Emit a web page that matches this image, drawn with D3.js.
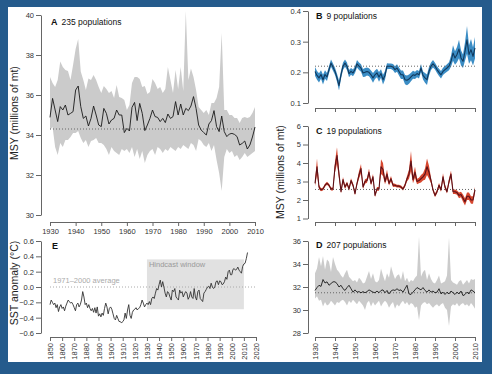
<!DOCTYPE html>
<html>
<head>
<meta charset="utf-8">
<script src="https://cdn.jsdelivr.net/npm/d3@7"></script>
<style>
  html, body { margin: 0; padding: 0; background: #255b8c; }
  svg { display: block; font-family: "Liberation Sans", Arial, sans-serif; }
</style>
</head>
<body>
<svg id="chart" width="492" height="374"></svg>
<script>
// ---- data ----
const msyYears = d3.range(1930, 2011);
const sstYears = d3.range(1850, 2014);
const msyTicks = d3.range(1930, 2011, 10);
const sstTicks = d3.range(1850, 2021, 10);

// A: all 235 populations
const aMean = [34.88,35.83,35.25,34.67,35.42,35.25,35.5,35.0,35.08,35.17,
  36.25,36.45,35.42,34.83,34.95,34.45,34.83,35.45,35.0,34.5,
  34.42,35.33,35.08,34.55,34.75,34.83,35.25,35.0,35.0,34.12,
  34.33,34.2,35.38,35.63,34.72,35.58,35.08,34.22,34.5,34.83,
  35.25,34.92,34.88,34.67,34.83,34.62,35.05,34.83,34.92,35.67,
  35.0,35.55,35.0,35.33,35.22,35.45,35.92,35.33,34.5,34.25,
  34.12,34.0,34.55,34.72,35.22,34.42,34.17,34.95,34.17,33.92,
  34.05,34.08,34.03,33.92,33.5,33.58,33.7,33.3,33.5,33.9,34.4];
const aHi = [36.9,36.6,36.4,36.75,37.67,37.4,37.25,37.2,36.75,37.5,
  38.3,38.8,37.17,36.75,36.25,36.83,36.75,37.0,36.75,36.4,
  36.1,36.45,36.3,36.1,36.2,35.85,36.5,35.9,35.85,35.75,
  35.25,35.5,36.6,36.9,36.9,36.8,36.4,36.45,36.05,36.15,
  36.8,36.6,36.3,36.4,36.1,36.3,37.4,36.75,36.1,37.25,
  36.3,37.4,36.2,40.2,36.75,37.33,36.9,36.25,35.4,35.25,
  35.1,35.25,35.0,35.6,35.6,35.85,36.4,39.1,35.25,35.25,
  35.0,35.0,34.85,34.85,34.6,34.85,34.9,34.85,34.9,35.1,35.4];
const aLo = [34.25,34.4,33.4,33.0,33.6,33.4,33.75,33.75,33.9,34.1,
  34.1,34.2,33.85,33.6,33.75,33.4,33.7,33.75,33.85,33.6,
  33.6,33.5,33.3,33.0,33.4,33.2,33.1,33.0,33.3,33.2,
  33.3,33.1,33.4,32.9,33.3,32.8,33.2,32.6,33.0,33.2,
  33.3,33.0,33.4,33.3,33.1,33.3,33.2,33.4,33.3,33.2,
  33.4,33.3,33.5,33.4,33.3,33.6,33.5,33.2,33.8,33.7,
  33.5,33.4,33.6,33.2,33.5,32.75,32.1,31.2,32.9,33.3,
  33.1,33.2,32.9,33.0,32.75,32.9,33.1,32.9,33.0,33.1,33.2];
const aRef = 34.3;

// B: 9 populations
const bMean = [0.203,0.19,0.182,0.193,0.176,0.193,0.185,0.209,0.23,0.217,
  0.203,0.182,0.157,0.192,0.22,0.23,0.22,0.196,0.203,0.198,
  0.209,0.228,0.22,0.214,0.198,0.2,0.203,0.2,0.192,0.182,
  0.192,0.198,0.185,0.196,0.176,0.19,0.22,0.22,0.22,0.217,
  0.209,0.214,0.203,0.192,0.192,0.176,0.174,0.178,0.185,0.192,
  0.19,0.196,0.192,0.214,0.19,0.182,0.176,0.203,0.22,0.228,
  0.22,0.209,0.2,0.192,0.203,0.209,0.214,0.22,0.236,0.263,
  0.247,0.258,0.276,0.247,0.236,0.268,0.306,0.258,0.274,0.252,0.28];
const bSpread = [.014,.014,.015,.014,.016,.014,.013,.012,.012,.012,
  .012,.013,.016,.013,.012,.012,.012,.012,.011,.011,
  .011,.012,.012,.012,.013,.014,.013,.013,.014,.016,
  .014,.014,.016,.014,.016,.014,.010,.009,.009,.010,
  .011,.012,.013,.014,.014,.015,.016,.015,.014,.013,
  .012,.012,.012,.013,.013,.016,.017,.014,.012,.012,
  .011,.011,.012,.012,.012,.012,.012,.013,.018,.025,
  .022,.025,.030,.025,.022,.030,.045,.030,.035,.030,.035];
const bRef = 0.22;

// C: 19 populations
const cMean = [2.9,3.8,2.7,2.55,2.6,2.8,2.9,2.8,2.6,2.6,
  3.8,4.4,3.4,2.45,3.1,2.7,2.9,2.6,3.05,2.8,
  2.35,2.9,3.35,3.7,2.7,3.0,3.05,3.5,2.9,3.25,
  2.25,2.6,2.6,3.8,3.65,3.0,3.4,2.9,3.15,2.8,
  2.8,2.75,2.75,2.7,2.6,2.8,3.15,3.4,4.1,3.1,
  3.5,3.0,3.05,3.15,3.25,3.4,3.8,3.5,3.05,2.55,
  2.25,2.45,2.8,2.55,3.25,2.7,2.45,3.0,3.4,2.45,
  2.45,2.4,2.25,2.3,2.1,1.9,2.2,2.2,2.0,2.0,2.55];
const cSpread = [.15,.45,.12,.08,.08,.08,.08,.08,.08,.08,
  .3,.45,.25,.1,.15,.1,.1,.1,.12,.1,
  .1,.12,.2,.25,.1,.12,.12,.2,.12,.15,
  .1,.1,.1,.4,.35,.15,.25,.12,.15,.1,
  .08,.08,.08,.08,.08,.1,.15,.25,.55,.2,
  .3,.15,.15,.2,.2,.3,.45,.35,.15,.1,
  .1,.1,.12,.1,.2,.12,.1,.15,.2,.12,
  .12,.12,.15,.15,.2,.2,.2,.2,.2,.2,.15];
const cRef = 2.57;

// D: 207 populations
const dMean = [31.7,31.95,32.15,32.05,32.65,32.35,32.45,32.15,32.3,32.45,
  32.45,32.3,32.0,32.15,31.85,31.7,31.95,32.15,31.85,31.55,
  31.75,31.55,31.6,31.5,31.6,31.5,31.6,31.75,31.65,31.55,
  31.5,31.65,31.5,31.7,31.75,31.5,31.7,31.4,31.65,31.75,
  31.7,31.85,31.7,31.75,31.55,31.85,32.15,31.4,31.35,31.55,
  31.75,31.95,31.85,31.75,31.95,31.7,31.55,31.75,31.55,31.65,
  31.5,31.55,31.85,31.4,31.55,31.35,31.55,31.4,31.65,31.5,
  31.35,31.55,31.4,31.65,31.25,31.35,31.55,31.4,31.75,31.65,31.5];
const dHi = [33.2,33.6,34.6,33.8,34.7,33.5,34.4,34.2,33.3,34.6,
  34.0,33.5,33.3,33.0,32.8,33.2,33.5,32.9,32.7,32.5,
  32.6,32.4,32.8,32.6,32.3,32.4,32.9,33.4,32.7,33.2,
  32.5,32.4,32.6,33.6,33.0,32.5,33.2,32.8,33.8,33.2,
  32.7,33.0,33.1,32.6,33.4,32.5,32.8,32.4,32.6,32.5,
  32.8,33.0,36.4,32.9,33.3,33.5,32.6,33.2,32.7,32.4,
  32.3,32.6,33.0,32.3,32.4,32.5,33.0,36.3,32.6,32.4,
  32.3,32.2,32.5,32.6,32.2,32.4,32.6,32.3,32.7,32.6,32.7];
const dLo = [31.0,31.2,30.8,30.9,30.3,30.7,30.4,30.5,30.8,30.6,
  30.4,30.7,30.6,30.8,30.9,30.7,30.4,30.8,30.6,30.9,
  30.7,30.5,30.8,30.6,30.4,30.0,30.6,30.8,30.3,30.7,
  30.4,30.6,30.8,30.3,30.6,30.8,30.6,30.2,30.5,30.7,
  30.1,30.5,30.3,30.6,30.8,30.5,30.7,30.4,30.6,30.5,
  30.2,30.3,29.1,30.4,30.6,30.7,30.5,30.6,30.4,30.2,
  30.4,30.5,30.3,30.5,30.6,30.2,30.0,28.6,30.3,30.5,
  30.4,30.6,30.3,30.5,30.6,30.4,30.5,30.3,30.6,30.4,30.1];
const dRef = 31.5;

// E: SST anomaly 1850-2013
const sst = [-0.23,-0.17,-0.2,-0.23,-0.21,-0.27,-0.23,-0.32,-0.26,-0.23,
  -0.28,-0.26,-0.31,-0.25,-0.21,-0.17,-0.19,-0.21,-0.2,-0.23,
  -0.27,-0.31,-0.23,-0.21,-0.26,-0.23,-0.17,-0.06,-0.13,-0.23,
  -0.21,-0.27,-0.23,-0.28,-0.31,-0.28,-0.33,-0.27,-0.34,-0.26,
  -0.38,-0.35,-0.39,-0.34,-0.37,-0.28,-0.21,-0.26,-0.35,-0.28,
  -0.26,-0.29,-0.35,-0.41,-0.43,-0.37,-0.41,-0.45,-0.45,-0.47,
  -0.45,-0.43,-0.34,-0.41,-0.3,-0.23,-0.37,-0.41,-0.33,-0.3,
  -0.29,-0.27,-0.3,-0.28,-0.27,-0.23,-0.17,-0.21,-0.26,-0.23,
  -0.21,-0.23,-0.19,-0.23,-0.15,-0.13,-0.15,-0.08,-0.02,-0.04,
  0.03,0.09,0.0,0.07,0.0,-0.08,-0.13,-0.06,-0.08,-0.13,
  -0.17,-0.04,-0.06,-0.02,-0.13,-0.15,-0.17,-0.04,-0.08,-0.06,
  -0.13,-0.09,-0.06,-0.08,-0.16,-0.13,-0.06,-0.13,-0.15,-0.02,
  -0.13,-0.17,-0.06,-0.04,-0.15,-0.17,-0.19,-0.08,-0.06,-0.03,
  0.0,0.01,-0.02,0.05,0.0,-0.02,0.0,0.07,0.08,0.03,
  0.08,0.07,0.03,0.04,0.07,0.13,0.1,0.2,0.22,0.16,
  0.16,0.23,0.24,0.22,0.23,0.26,0.22,0.2,0.18,0.27,
  0.30,0.31,0.37,0.45];
const hindcast = { from: 1930, to: 2010, top: 0.36, bottom: -0.29 };

// ---- drawing ----
const svg = d3.select('#chart');
svg.append('rect').attr('width', 492).attr('height', 374).attr('fill', '#255b8c');
svg.append('rect').attr('x', 8).attr('y', 7).attr('width', 474).attr('height', 355).attr('fill', '#fff');

const axisColor = '#666';
const textColor = '#333';

function styleAxis(g) {
  g.selectAll('path.domain').attr('stroke', axisColor).attr('stroke-width', 1);
  g.selectAll('.tick line').attr('stroke', axisColor).attr('stroke-width', 1);
  g.selectAll('.tick text').attr('fill', textColor).style('font-size', '7.5px')
    .style('font-family', '"Liberation Sans", Arial, sans-serif');
}

function drawPanel(p) {
  const x = d3.scaleLinear().domain(p.xDomain).range(p.xRange);
  const y = d3.scaleLinear().domain(p.yDomain).range(p.yRange);
  const g = svg.append('g');

  if (p.lo) {
    const area = d3.area()
      .x((d, i) => x(p.years[i]))
      .y0((d, i) => y(p.lo[i]))
      .y1((d, i) => y(p.hi[i]));
    g.append('path').datum(p.years).attr('d', area).attr('fill', p.bandColor);
  }

  g.append('line')
    .attr('x1', x(p.xDomain[0])).attr('x2', x(p.xDomain[1]))
    .attr('y1', y(p.ref)).attr('y2', y(p.ref))
    .attr('stroke', p.refColor || '#666').attr('stroke-width', 1)
    .attr('stroke-dasharray', '1,2');

  const line = d3.line().x((d, i) => x(p.years[i])).y(d => y(d));
  g.append('path').datum(p.values).attr('d', line)
    .attr('fill', 'none').attr('stroke', p.lineColor).attr('stroke-width', p.lineWidth || 1)
    .attr('stroke-linejoin', 'round');

  // y axis
  const ya = g.append('g').attr('transform', `translate(${p.yAxisX},0)`)
    .call(d3.axisLeft(y).tickValues(p.yTicks).tickFormat(p.yFormat || d3.format('d'))
      .tickSize(5).tickPadding(2).tickSizeOuter(0));
  styleAxis(ya);

  // x axis
  const xa = g.append('g').attr('transform', `translate(0,${p.xAxisY})`)
    .call(d3.axisBottom(x).tickValues(p.xTicks).tickFormat(d3.format('d'))
      .tickSize(4).tickPadding(3).tickSizeOuter(0));
  styleAxis(xa);
  if (p.xLabels === 'none') xa.selectAll('.tick text').remove();
  if (p.xLabels === 'rot') {
    xa.selectAll('.tick text')
      .attr('transform', 'rotate(-90)')
      .attr('text-anchor', 'end')
      .attr('x', -6).attr('y', 0).attr('dy', '0.35em');
  }

  if (p.letter) {
    const t = g.append('text').attr('x', p.labelPos[0]).attr('y', p.labelPos[1])
      .attr('fill', '#111').style('font-size', '8.5px');
    t.append('tspan').text(p.letter).attr('font-weight', 'bold').style('font-size', '9px');
    if (p.caption) t.append('tspan').attr('dx', 4).text(p.caption);
  }
  return { x, y, g };
}

drawPanel({
  years: msyYears, values: aMean, lo: aLo, hi: aHi, ref: aRef,
  xDomain: [1930, 2010], xRange: [50, 255], yDomain: [30, 40], yRange: [215, 15],
  yTicks: d3.range(30, 41, 2), xTicks: msyTicks, yAxisX: 41, xAxisY: 222,
  bandColor: '#cbcbcb', lineColor: '#1a1a1a', lineWidth: 0.9,
  letter: 'A', caption: '235 populations', labelPos: [51, 25]
});

drawPanel({
  years: msyYears, values: bMean, ref: bRef,
  lo: bMean.map((v, i) => v - bSpread[i]), hi: bMean.map((v, i) => v + bSpread[i]),
  xDomain: [1930, 2010], xRange: [315, 475], yDomain: [0.1, 0.4], yRange: [103, 11],
  yTicks: [0.1, 0.2, 0.3, 0.4], yFormat: d3.format('.1f'), xTicks: msyTicks, xLabels: 'none',
  yAxisX: 308, xAxisY: 108,
  bandColor: '#3b8dc5', lineColor: '#10385c', lineWidth: 1.1,
  letter: 'B', caption: '9 populations', labelPos: [316, 19]
});

drawPanel({
  years: msyYears, values: cMean, ref: cRef,
  lo: cMean.map((v, i) => v - cSpread[i]), hi: cMean.map((v, i) => v + cSpread[i]),
  xDomain: [1930, 2010], xRange: [315, 475], yDomain: [1, 6], yRange: [218.5, 126],
  yTicks: [1, 2, 3, 4, 5, 6], xTicks: msyTicks, xLabels: 'none',
  yAxisX: 308, xAxisY: 222,
  bandColor: '#d7472f', lineColor: '#5a1018', lineWidth: 1.1,
  letter: 'C', caption: '19 populations', labelPos: [316, 134]
});

drawPanel({
  years: msyYears, values: dMean, lo: dLo, hi: dHi, ref: dRef,
  xDomain: [1930, 2010], xRange: [315, 475], yDomain: [28, 36], yRange: [333, 241],
  yTicks: d3.range(28, 37, 2), xTicks: msyTicks, xLabels: 'rot',
  yAxisX: 308, xAxisY: 337,
  bandColor: '#cbcbcb', lineColor: '#1a1a1a', lineWidth: 0.9,
  letter: 'D', caption: '207 populations', labelPos: [316, 248]
});

// E panel: hindcast box drawn first so the series sits on top
const xE = d3.scaleLinear().domain([1850, 2020]).range([50, 256]);
const yE = d3.scaleLinear().domain([-0.6, 0.6]).range([333, 241]);
svg.append('rect')
  .attr('x', xE(hindcast.from)).attr('y', yE(hindcast.top))
  .attr('width', xE(hindcast.to) - xE(hindcast.from))
  .attr('height', yE(hindcast.bottom) - yE(hindcast.top))
  .attr('fill', '#e1e1e1');
svg.append('text').attr('x', xE(hindcast.from) + 2).attr('y', yE(hindcast.top) + 8)
  .attr('fill', '#9a9a9a').style('font-size', '7.5px').text('Hindcast window');
svg.append('text').attr('x', 53).attr('y', yE(0) - 4)
  .attr('fill', '#aaa').style('font-size', '7.5px').text('1971–2000 average');

drawPanel({
  years: sstYears, values: sst, ref: 0, refColor: '#aaa',
  xDomain: [1850, 2020], xRange: [50, 256], yDomain: [-0.6, 0.6], yRange: [333, 241],
  yTicks: [-0.6, -0.4, -0.2, 0, 0.2, 0.4, 0.6], yFormat: d3.format('.1f'),
  xTicks: sstTicks, xLabels: 'rot', yAxisX: 41, xAxisY: 337,
  lineColor: '#333', lineWidth: 0.9,
  letter: 'E', labelPos: [52, 249]
});

// axis titles
function yTitle(txt, x, cy) {
  svg.append('text').attr('transform', `translate(${x},${cy}) rotate(-90)`)
    .attr('text-anchor', 'middle').attr('fill', '#222').style('font-size', '10.5px').text(txt);
}
yTitle('MSY (millions of mt)', 18, 113);
yTitle('MSY (millions of mt)', 284, 172);
yTitle('SST anomaly (°C)', 18, 283);
</script>
</body>
</html>
